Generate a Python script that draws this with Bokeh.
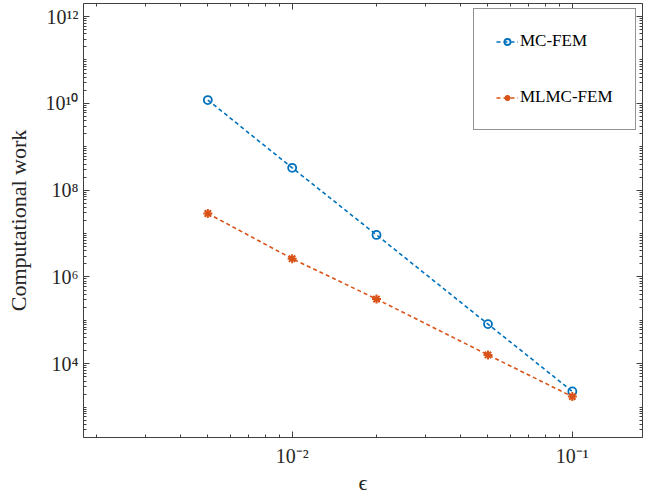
from bokeh.plotting import figure
from bokeh.models import (LogAxis, FixedTicker, Legend, LegendItem, Range1d,
                          CustomJSTickFormatter)
from bokeh.embed import file_html
from bokeh.resources import INLINE

# ---- data ----
eps = [0.005, 0.01, 0.02, 0.05, 0.1]
mc_fem = [1.19e10, 3.28e8, 9.3e6, 8.2e4, 2.3e3]
mlmc_fem = [2.9e7, 2.64e6, 3.1e5, 1.6e4, 1.75e3]

x_ticks = [0.01, 0.1]
x_labels = ["10\u207b\u00b2", "10\u207b\u00b9"]
y_ticks = [1e4, 1e6, 1e8, 1e10, 1e12]
y_labels = ["10\u2074", "10\u2076", "10\u2078", "10\u00b9\u2070", "10\u00b9\u00b2"]

x_minor = [k * 10.0 ** n for n in (-3, -2, -1) for k in range(1, 10)]
y_minor = [k * 10.0 ** n for n in range(2, 13) for k in range(1, 10)]

FONT = "Liberation Serif"
AX = "#404040"
TXT = "#262626"
BLUE = "#0072BD"
ORANGE = "#D95319"

p = figure(width=646, height=497, x_axis_type="log", y_axis_type="log",
           x_range=Range1d(0.0018, 0.178), y_range=Range1d(200, 2e12),
           output_backend="svg", toolbar_location=None,
           min_border_left=83, min_border_right=4, min_border_top=3,
           min_border_bottom=57)
p.xgrid.visible = False
p.ygrid.visible = False
p.outline_line_color = None
p.background_fill_color = "white"

fmt_js = """
let best = -1;
for (let i = 0; i < tvals.length; i++) {
  if (Math.abs(Math.log10(tvals[i]) - Math.log10(tick)) < 1e-6) { best = i; }
}
return best >= 0 ? tlabels[best] : "";
"""
xfmt = CustomJSTickFormatter(args=dict(tvals=x_ticks, tlabels=x_labels), code=fmt_js)
yfmt = CustomJSTickFormatter(args=dict(tvals=y_ticks, tlabels=y_labels), code=fmt_js)
xticker = FixedTicker(ticks=x_ticks, minor_ticks=x_minor)
yticker = FixedTicker(ticks=y_ticks, minor_ticks=y_minor)


def style_axis(ax, show_labels=True):
    ax.axis_line_color = AX
    ax.axis_line_width = 1
    ax.major_tick_line_color = AX
    ax.minor_tick_line_color = AX
    ax.major_tick_in = 6
    ax.major_tick_out = 0
    ax.minor_tick_in = 3
    ax.minor_tick_out = 0
    ax.major_label_text_font = FONT
    ax.major_label_text_color = TXT
    if show_labels:
        ax.major_label_text_font_size = "20px"
    else:
        ax.major_label_text_font_size = "0px"
        ax.major_label_standoff = 0


p.xaxis.ticker = xticker
p.xaxis.formatter = xfmt
p.yaxis.ticker = yticker
p.yaxis.formatter = yfmt
style_axis(p.xaxis[0])
style_axis(p.yaxis[0])
p.xaxis.major_label_standoff = 7
p.yaxis.major_label_standoff = 5
p.xaxis.axis_label = "\u03f5"
p.yaxis.axis_label = "Computational work"
for ax in (p.xaxis[0], p.yaxis[0]):
    ax.axis_label_text_font = FONT
    ax.axis_label_text_font_style = "normal"
    ax.axis_label_text_color = TXT
p.xaxis.axis_label_text_font_size = "22px"
p.yaxis.axis_label_text_font_size = "22px"
p.xaxis.axis_label_standoff = 0
p.yaxis.axis_label_standoff = 12

top = LogAxis(ticker=xticker, formatter=xfmt)
style_axis(top, False)
right = LogAxis(ticker=yticker, formatter=yfmt)
style_axis(right, False)
p.add_layout(top, "above")
p.add_layout(right, "right")

l1 = p.line(eps, mc_fem, line_color=BLUE, line_width=1.6, line_dash="4 3")
s1 = p.scatter(eps, mc_fem, marker="circle", size=8, line_color=BLUE,
               line_width=1.8, fill_color=None)
l2 = p.line(eps, mlmc_fem, line_color=ORANGE, line_width=1.6, line_dash="4 3")
s2 = p.scatter(eps, mlmc_fem, marker="asterisk", size=9, line_color=ORANGE,
               line_width=2)

legend = Legend(items=[LegendItem(label="MC-FEM", renderers=[l1, s1]),
                       LegendItem(label="MLMC-FEM", renderers=[l2, s2])],
                location=(390, 307))
legend.label_text_font = FONT
legend.label_text_font_size = "17px"
legend.label_text_color = "black"
legend.border_line_color = TXT
legend.border_line_width = 1
legend.background_fill_alpha = 1
legend.padding = 22
legend.spacing = 36
legend.label_height = 15
legend.glyph_height = 15
legend.glyph_width = 22
legend.label_standoff = 2
legend.margin = 0
p.add_layout(legend, "center")

open("out.html", "w").write(file_html(p, INLINE))
